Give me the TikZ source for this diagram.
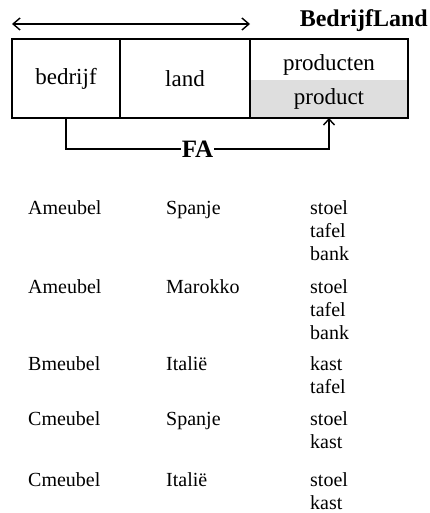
\documentclass[tikz,border=0pt]{standalone}
\usepackage{fontspec}
\setmainfont{Liberation Serif}
\usepackage{tikz}
\usetikzlibrary{positioning}
\usetikzlibrary{arrows.meta}
\usetikzlibrary{backgrounds}
\newcommand\rowfont{\fontsize{20}{23}\selectfont}

\begin{document}
\begin{tikzpicture}[x=1pt,y=-1pt,
	cell/.style={draw,line width=1.6pt,outer sep=0pt,inner sep=0pt,minimum height=79,font=\fontsize{23}{26}\selectfont},
	row/.style={anchor=base west,align=left,inner sep=0pt,font=\rowfont},
	tip/.style={-{Straight Barb[length=6pt,width=11pt,line width=1.4pt]}}]
	\useasboundingbox (0,0) rectangle (429,513);
	
	%MAIN BOX
	\node[cell,minimum width=108] (bedrijf) at (66,78.5) {bedrijf};
	\node[cell,minimum width=130,right=0pt of bedrijf] (land) {land};
	\node[cell,minimum width=158,right=0pt of land] (prodcell) {};
	\begin{scope}[on background layer]
		\node[fill=black!13,minimum width=158,minimum height=38,inner sep=0pt,anchor=south,font=\fontsize{23}{26}\selectfont] (prod) at (prodcell.south) {product};
	\end{scope}
	\node[above=4pt of prod,inner sep=0pt,font=\fontsize{23}{26}\selectfont] (producten) {producten};
	
	%TITLE AND KEY ARROW
	\node[anchor=base east,inner sep=0pt,font=\fontsize{24}{26}\selectfont\bfseries] (title) at (428,27) {BedrijfLand};
	\draw[line width=1.4pt,{Straight Barb[length=7pt,width=12pt]}-{Straight Barb[length=7pt,width=12pt]}]
		([yshift=15]bedrijf.north west) -- ([yshift=15]land.north east);
	
	%FA
	\draw[line width=1.4pt,tip] (bedrijf.south) -- ++(0,31) -| node[pos=0.25,fill=white,inner sep=1pt,font=\fontsize{25}{27}\selectfont\bfseries] (fa) {FA} (prod.south);
	
	%ROWS (base = baseline of the last line)
	\node[row] (b1) at (28,214) {Ameubel};
	\node[row] (l1) at (166,214) {Spanje};
	\node[row] (p1) at (310,260) {stoel\\tafel\\bank};
	%
	\node[row] (b2) at (28,293) {Ameubel};
	\node[row] (l2) at (166,293) {Marokko};
	\node[row] (p2) at (310,339) {stoel\\tafel\\bank};
	%
	\node[row] (b3) at (28,370) {Bmeubel};
	\node[row] (l3) at (166,370) {Italië};
	\node[row] (p3) at (310,393) {kast\\tafel};
	%
	\node[row] (b4) at (28,425) {Cmeubel};
	\node[row] (l4) at (166,425) {Spanje};
	\node[row] (p4) at (310,448) {stoel\\kast};
	%
	\node[row] (b5) at (28,486) {Cmeubel};
	\node[row] (l5) at (166,486) {Italië};
	\node[row] (p5) at (310,509) {stoel\\kast};
\end{tikzpicture}
\end{document}
